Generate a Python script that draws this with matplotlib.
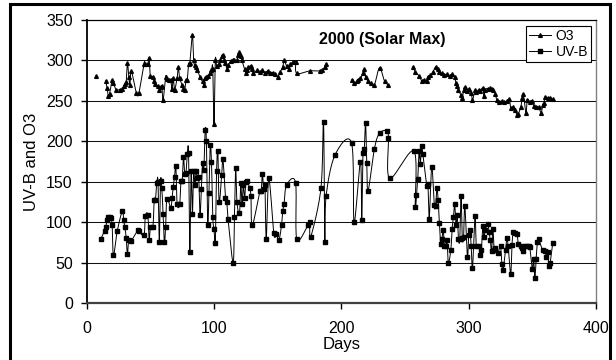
"""UV-B and O3 daily values, 2000 (Solar Max)."""

import matplotlib

matplotlib.use("Agg")

import matplotlib.pyplot as plt
import numpy as np
from matplotlib.lines import Line2D
from matplotlib.patches import Rectangle

plt.rcParams["font.family"] = ["Liberation Sans", "DejaVu Sans"]

# ---------------------------------------------------------------------------
# data
# ---------------------------------------------------------------------------

o3_days = [
    7,
    15, 16, 17, 18, 20, 21, 23, 26, 28, 29, 30, 31, 32, 33, 34, 35, 39, 41,
    45, 46, 48, 49, 50, 52, 53, 54, 56, 57, 58, 59, 60, 62, 63, 65, 66, 67,
    68, 69, 71, 72, 73, 75, 76, 77, 78, 79, 80, 81, 83, 84, 85, 86, 87, 89,
    91, 92, 93, 94, 95, 97, 98, 99, 100, 101, 102, 104, 105, 106, 107, 108,
    109, 110, 111, 113, 115, 116, 118, 119, 120, 121, 122, 124, 125, 126,
    127, 129, 130, 131, 134, 136, 138, 140, 142, 144, 146, 148, 150, 152,
    154, 155, 157, 159, 160, 162, 164, 165, 175, 183, 185, 187, 188,
    208, 210, 212, 213, 215, 217, 218, 219, 221, 223, 226, 230, 234, 237,
    256, 258, 261, 263, 265, 267, 268, 270, 272, 274, 276, 277, 279, 281,
    283, 285, 287, 289, 290, 291, 292, 294, 295, 296, 297, 299, 300, 302,
    303, 305, 306, 308, 309, 311, 312, 313, 315, 317, 318, 319, 321, 322,
    324, 326, 328, 330, 332, 333, 335, 336, 338, 339, 341, 342, 343, 345,
    346, 348, 350, 351, 353, 355, 357, 358, 359, 360, 362, 364, 366,
]
o3_values = [
    281,
    275, 266, 256, 259, 276, 272, 264, 264, 265, 268, 271, 273, 297, 280,
    270, 287, 260, 260,
    296, 296, 296, 303, 281, 280, 274, 271, 268, 264, 267, 268, 251, 280,
    277, 276, 276, 265, 278, 264, 278, 292, 278, 270, 265, 263, 276, 276,
    296, 297, 331, 300, 294, 292, 288, 279, 274, 270, 278, 279, 281, 284,
    288, 290, 221, 300, 293, 296, 300, 305, 307, 301, 297, 290, 294, 299,
    301, 300, 300, 307, 310, 305, 300, 289, 284, 288, 292, 293, 290, 284,
    288, 286, 288, 285, 287, 285, 285, 283, 280, 286, 292, 300, 293, 290,
    295, 298, 298, 284, 287, 287, 288, 292, 296,
    276, 272, 274, 276, 278, 284, 289, 280, 274, 272, 270, 291, 274, 270,
    292, 286, 281, 275, 276, 275, 280, 282, 286, 292, 290, 286, 284, 282,
    283, 281, 283, 279, 272, 268, 263, 257, 253, 264, 267, 262, 265, 260,
    251, 263, 261, 264, 262, 266, 256, 264, 265, 266, 265, 263, 259, 251,
    248, 250, 248, 250, 252, 241, 243, 239, 233, 234, 243, 253, 258, 235,
    251, 249, 250, 244, 243, 242, 235, 245, 247, 255, 253, 254, 252,
]
# last day of each connected O3 run (the line is broken after these)
o3_breaks = [7, 188, 237]

uvb_days = [
    11, 14, 15, 16, 17, 18, 19, 20, 21, 24, 28, 29, 30, 31, 32, 33, 35, 40,
    41, 45, 46, 48, 49, 50, 52, 53, 54, 55, 56, 57, 58, 59, 60, 61, 62, 63,
    66, 67, 68, 69, 70, 71, 73, 74, 75, 76, 77, 78, 79, 80, 81, 82, 83, 84,
    85, 86, 87, 88, 89, 90, 91, 92, 93, 94, 95, 96, 97, 98, 99, 100, 101,
    102, 103, 104, 106, 107, 109, 110, 111, 115, 116, 117, 118, 120, 121,
    122, 123, 124, 125, 126, 128, 129, 130, 136, 137, 138, 139, 140, 141,
    143, 147, 149, 151, 153, 154, 155, 157, 164, 165, 174, 175, 176, 184,
    186, 187, 188, 195, 208, 210, 215, 216, 217, 218, 219, 220, 221, 226,
    230, 236, 237, 238, 257, 258, 259, 260, 261, 262, 263, 264, 267, 268,
    269, 271, 273, 274, 275, 276, 277, 278, 279, 280, 281, 282, 283, 284,
    286, 287, 288, 289, 290, 291, 292, 293, 294, 295, 296, 297, 299, 300,
    301, 302, 303, 305, 306, 308, 309, 310, 311, 312, 313, 315, 316, 317,
    318, 319, 320, 321, 323, 325, 326, 327, 329, 330, 331, 333, 334, 335,
    336, 338, 339, 341, 342, 343, 344, 346, 347, 348, 350, 351, 352, 353,
    354, 355, 358, 360, 361, 362, 363, 364, 366,
]
uvb_values = [
    79, 89, 94, 103, 106, 106, 105, 96, 59, 89, 114, 103, 94, 81, 60, 78,
    77, 90, 89, 84, 107, 109, 78, 94, 94, 128, 128, 148, 150, 76, 151, 142,
    110, 75, 94, 129, 118, 130, 143, 156, 170, 123, 122, 151, 151, 181, 159,
    161, 184, 185, 63, 163, 110, 163, 146, 163, 154, 156, 109, 141, 173,
    165, 214, 200, 97, 136, 195, 174, 106, 92, 74, 163, 188, 125, 158, 178,
    130, 125, 104, 50, 106, 167, 125, 111, 148, 123, 146, 130, 150, 151,
    142, 132, 96, 138, 138, 159, 141, 146, 79, 154, 86, 85, 78, 96, 114,
    123, 146, 149, 79, 97, 100, 82, 142, 224, 76, 132, 183, 198, 100, 175,
    103, 185, 190, 223, 173, 139, 191, 210, 213, 204, 154, 188, 119, 133,
    153, 188, 172, 194, 184, 145, 147, 104, 168, 121, 120, 142, 128, 99,
    73, 79, 90, 70, 70, 78, 50, 66, 92, 106, 123, 97, 109, 79, 79, 132, 80,
    82, 120, 57, 84, 90, 70, 43, 107, 70, 71, 59, 66, 95, 82, 90, 98, 88,
    78, 64, 92, 66, 68, 62, 71, 48, 41, 66, 81, 70, 36, 72, 88, 86, 85, 73,
    71, 68, 64, 70, 71, 70, 69, 42, 54, 31, 55, 76, 79, 65, 64, 57, 63, 46,
    50, 74,
]

x_ticks = [0, 100, 200, 300, 400]
y_ticks = [0, 50, 100, 150, 200, 250, 300, 350]
title_text = "2000 (Solar Max)"


def smooth(xs, ys, n=14):
    """Excel-style smoothed line (Catmull-Rom through the points)."""
    pts = np.column_stack([xs, ys]).astype(float)
    if len(pts) < 3:
        return pts[:, 0], pts[:, 1]
    p = np.vstack([pts[0], pts, pts[-1]])
    t = np.linspace(0.0, 1.0, n, endpoint=False)[:, None]
    out = []
    for i in range(1, len(p) - 2):
        p0, p1, p2, p3 = p[i - 1], p[i], p[i + 1], p[i + 2]
        seg = 0.5 * (
            2 * p1
            + (-p0 + p2) * t
            + (2 * p0 - 5 * p1 + 4 * p2 - p3) * t**2
            + (-p0 + 3 * p1 - 3 * p2 + p3) * t**3
        )
        out.append(seg)
    out.append(pts[-1][None, :])
    out = np.vstack(out)
    return out[:, 0], out[:, 1]


def runs(days, values, breaks):
    start = 0
    for i, d in enumerate(days):
        if d in breaks or i == len(days) - 1:
            yield days[start:i + 1], values[start:i + 1]
            start = i + 1


fig = plt.figure(figsize=(6.16, 3.6), dpi=100)
ax = fig.add_axes([86.7 / 616, 1 - 303 / 360, (596 - 86.7) / 616, 283 / 360])

for v in y_ticks[1:-1]:
    ax.axhline(v, color="#111111", lw=0.75, zorder=1)

line_kw = dict(color="black", lw=0.7, zorder=3)
o3_marker = dict(marker="^", ms=2.7)
uvb_marker = dict(marker="s", ms=2.4)

for d, v in runs(o3_days, o3_values, o3_breaks):
    sx, sy = smooth(d, v)
    ax.plot(sx, sy, **line_kw)
ax.plot(o3_days, o3_values, ls="none", color="black", zorder=4, **o3_marker)

sx, sy = smooth(uvb_days, uvb_values)
ax.plot(sx, sy, **line_kw)
ax.plot(uvb_days, uvb_values, ls="none", color="black", zorder=4, **uvb_marker)

ax.set_xlim(0, 400)
ax.set_ylim(0, 350)
ax.set_xticks(x_ticks)
ax.set_yticks(y_ticks)
ax.tick_params(axis="x", direction="out", length=4, width=1, pad=9, labelsize=11.5)
ax.tick_params(axis="y", direction="out", length=4, width=1, pad=6, labelsize=11.5)

ax.spines["left"].set_linewidth(1.3)
ax.spines["left"].set_color("black")
ax.spines["bottom"].set_linewidth(1.6)
ax.spines["bottom"].set_color("#404040")
ax.spines["top"].set_linewidth(0.9)
ax.spines["top"].set_color("black")
ax.spines["right"].set_linewidth(1.0)
ax.spines["right"].set_color("#808080")

ax.set_xlabel("Days", fontsize=12, labelpad=1)
ax.set_ylabel("UV-B and O3", fontsize=12, labelpad=5)

ax.text(0.58, 0.93, title_text, transform=ax.transAxes, ha="center",
        va="center", fontsize=11.5, fontweight="bold")

handles = [
    Line2D([], [], color="black", lw=0.7, **o3_marker),
    Line2D([], [], color="black", lw=0.7, **uvb_marker),
]
leg = ax.legend(handles, ["O3", "UV-B"], loc="upper right",
                bbox_to_anchor=(0.995, 0.987), fontsize=10, frameon=True,
                fancybox=False, framealpha=1, edgecolor="black",
                handlelength=1.6, handletextpad=0.3, borderpad=0.2,
                labelspacing=0.15, borderaxespad=0.2)
leg.get_frame().set_linewidth(0.8)

# chart-area frame
fig.patches.append(Rectangle((10 / 616, -0.02), (610 - 10) / 616, 1 - 4 / 360 + 0.02,
                             transform=fig.transFigure, fill=False,
                             edgecolor="black", lw=2.2))

fig.savefig("out.png", dpi=100)
